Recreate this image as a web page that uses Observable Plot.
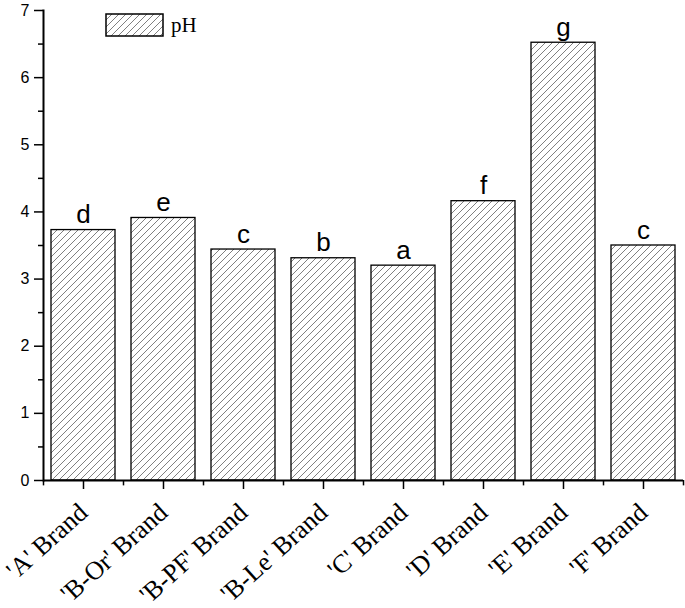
<!DOCTYPE html>
<html><head><meta charset="utf-8">
<script src="https://cdn.jsdelivr.net/npm/d3@7"></script>
<script src="https://cdn.jsdelivr.net/npm/@observablehq/plot@0.6"></script>
<style>body{margin:0;background:#fff}</style>
</head><body><div id="chart"></div>
<script>
const brands = ["'A' Brand","'B-Or' Brand","'B-PF' Brand","'B-Le' Brand","'C' Brand","'D' Brand","'E' Brand","'F' Brand"];
const pH = [3.73, 3.91, 3.44, 3.31, 3.20, 4.16, 6.52, 3.50];
const letters = ["d","e","c","b","a","f","g","c"];
const yTicks = [0,1,2,3,4,5,6,7];
const yMinor = [0.5,1.5,2.5,3.5,4.5,5.5,6.5];
const data = brands.map((b,i)=>({brand:b, pH:pH[i], letter:letters[i]}));

const sans = "Liberation Sans, Arial, sans-serif";
const serif = "Liberation Serif, Times New Roman, serif";

const chart = Plot.plot({
  width: 685, height: 608,
  marginLeft: 43, marginRight: 2, marginTop: 10, marginBottom: 128,
  style: {background: "#fff", color: "#000"},
  x: {domain: brands, paddingInner: 0.2, paddingOuter: 0.1, label: null},
  y: {domain: [0,7], label: null},
  marks: [
    Plot.barY(data, {x:"brand", y:"pH", fill:"url(#hatch)", stroke:"#000", strokeWidth:1.3}),
    Plot.text(data, {x:"brand", y:"pH", text:"letter", lineAnchor:"bottom", dy:-7, fontSize:26, fontFamily:sans, fill:"#000"}),
    Plot.ruleY([0], {stroke:"#000", strokeWidth:2}),
    Plot.frame({anchor:"left", stroke:"#000", strokeWidth:2}),
    Plot.axisY({ticks: yTicks, tickSize: 9, tickPadding: 5, tickFormat: d3.format("d"), fontSize: 16, fontFamily: sans, strokeWidth: 1.5}),
    Plot.axisY({ticks: yMinor, tickSize: 5, tickFormat: () => "", strokeWidth: 1.5}),
    Plot.axisX({tickSize: 9, tickRotate: -42, fontSize: 26, fontFamily: serif, strokeWidth: 1.5, tickPadding: 19}),
    Plot.ruleX(data, {x:"brand", dx:-40, y1:0, y2:-0.08, stroke:"#000", strokeWidth:1.5}),
    Plot.ruleX([data[data.length-1]], {x:"brand", dx:40, y1:0, y2:-0.08, stroke:"#000", strokeWidth:1.5})
  ]
});

const svg = d3.select(chart);
const defs = svg.insert("defs", ":first-child");
const s = 7;
const pat = defs.append("pattern").attr("id","hatch").attr("patternUnits","userSpaceOnUse")
  .attr("width",s).attr("height",s);
pat.append("rect").attr("width",s).attr("height",s).attr("fill","#fff");
pat.append("path").attr("d",`M-1,1 L1,-1 M0,${s} L${s},0 M${s-1},${s+1} L${s+1},${s-1}`)
  .attr("stroke","#555").attr("stroke-width",0.75);

// legend
const lg = svg.append("g");
lg.append("rect").attr("x",106).attr("y",14).attr("width",57).attr("height",22)
  .attr("fill","url(#hatch)").attr("stroke","#000").attr("stroke-width",1.5);
lg.append("text").attr("x",171).attr("y",32).attr("text-anchor","start")
  .attr("font-family",serif).attr("font-size",21).text("pH");

document.getElementById("chart").appendChild(chart);
</script>
</body></html>
